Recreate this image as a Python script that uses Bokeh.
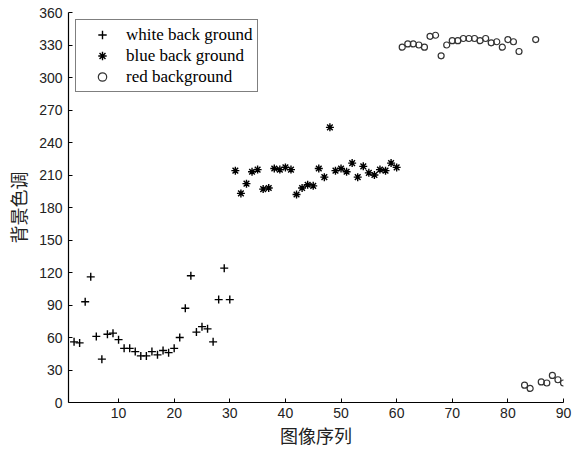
from bokeh.plotting import figure
from bokeh.models import Range1d, FixedTicker
from bokeh.embed import file_html
from bokeh.resources import INLINE

# ---- data ----
white_x = list(range(2, 31))
white_y = [56, 55, 93, 116, 61, 40, 63, 64, 58, 50, 50, 47, 43, 43, 47, 44, 48, 46,
           50, 60, 87, 117, 65, 70, 68, 56, 95, 124, 95]

blue_x = list(range(31, 61))
blue_y = [214, 193, 202, 213, 215, 197, 198, 216, 215, 217, 215, 192, 198, 201, 200,
          216, 208, 254, 214, 216, 213, 221, 208, 218, 212, 210, 215, 214, 221, 217]

red_x = list(range(61, 91))
red_y = [328, 331, 331, 330, 328, 338, 339, 320, 330, 334, 334, 336, 336, 336, 334,
         336, 332, 333, 328, 335, 333, 324, 16, 13, 335, 19, 18, 25, 21, 18]

x_ticks = [10, 20, 30, 40, 50, 60, 70, 80, 90]
y_ticks = [0, 30, 60, 90, 120, 150, 180, 210, 240, 270, 300, 330, 360]

series_labels = ["white back ground", "blue back ground", "red background"]
x_title = "图像序列"
y_title = "背景色调"

# ---- figure ----
p = figure(width=580, height=450, output_backend="svg", toolbar_location=None,
           x_range=Range1d(1, 90), y_range=Range1d(0, 360),
           min_border_left=68, min_border_right=17, min_border_top=12, min_border_bottom=48)

p.scatter(white_x, white_y, marker="cross", size=8, line_color="black", line_width=1.4,
          legend_label=series_labels[0])
p.scatter(blue_x, blue_y, marker="asterisk", size=8, line_color="black", line_width=1.4,
          legend_label=series_labels[1])
p.scatter(red_x, red_y, marker="circle", size=6, line_color="#333333", fill_color=None,
          line_width=1.2, legend_label=series_labels[2])

p.outline_line_color = None
p.grid.visible = False
p.background_fill_color = "white"

for ax in (p.xaxis[0], p.yaxis[0]):
    ax.axis_line_color = "black"
    ax.axis_line_width = 1.2
    ax.major_tick_in = 4
    ax.major_tick_out = 0
    ax.major_tick_line_color = "black"
    ax.minor_tick_line_color = None
    ax.major_label_text_font = "Liberation Sans"
    ax.major_label_text_font_size = "14px"
    ax.major_label_text_color = "#222222"
    ax.axis_label_text_font = "Noto Sans CJK SC"
    ax.axis_label_text_font_size = "18px"
    ax.axis_label_text_font_style = "normal"
    ax.axis_label_text_color = "#222222"

p.xaxis[0].ticker = FixedTicker(ticks=x_ticks)
p.yaxis[0].ticker = FixedTicker(ticks=y_ticks)
p.xaxis[0].axis_label = x_title
p.yaxis[0].axis_label = y_title
p.xaxis[0].major_label_standoff = 5
p.xaxis[0].axis_label_standoff = 1
p.yaxis[0].major_label_standoff = 6
p.yaxis[0].axis_label_standoff = 5

lg = p.legend[0]
lg.location = "top_left"
lg.margin = 7
lg.padding = 4
lg.spacing = 0
lg.glyph_width = 44
lg.glyph_height = 21
lg.label_height = 21
lg.label_standoff = 2
lg.label_text_font = "Liberation Serif"
lg.label_text_font_size = "17px"
lg.label_text_color = "black"
lg.border_line_color = "black"
lg.border_line_width = 1
lg.background_fill_color = "white"
lg.background_fill_alpha = 1.0

open("out.html", "w").write(file_html(p, INLINE))
